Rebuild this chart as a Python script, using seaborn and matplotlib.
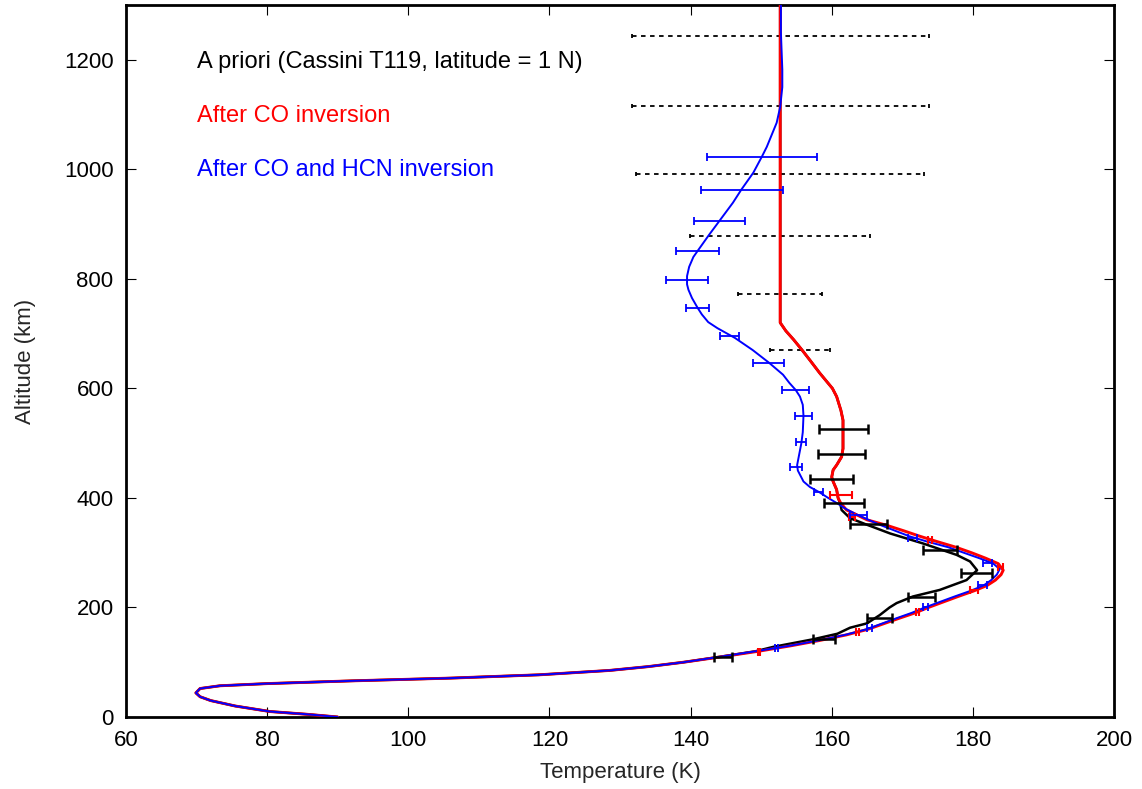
import matplotlib
matplotlib.use("Agg")
import matplotlib.pyplot as plt
import seaborn as sns
import pandas as pd

# profiles: altitude (km) -> temperature (K)
alt_blue = [0, 5, 10, 20, 30, 37, 44, 52, 57, 61, 66, 71, 77, 85, 92, 100, 110, 120,
            130, 140, 150, 160, 170, 180, 190, 200, 210, 220, 230, 240, 250, 260, 270,
            280, 290, 300, 310, 320, 330, 340, 350, 360, 370, 380, 390, 400, 410, 420,
            430, 440, 450, 460, 480, 500, 520, 550, 570, 585, 597, 610, 625, 647, 670,
            692, 710, 721, 735, 747, 765, 780, 790, 805, 822, 840, 851, 880, 906, 939, 963,
            994, 1023, 1041, 1085, 1114, 1150, 1182, 1250, 1300]
temp_blue = [90.0, 85.6, 80.4, 75.5, 72.0, 70.5, 69.9, 70.5, 73.3, 80.0, 92.0, 106.0, 118.5,
             128.5, 134.0, 139.0, 144.2, 149.2, 154.0, 158.2, 161.9, 164.9, 167.0, 169.1,
             171.3, 173.2, 175.3, 177.4, 179.6, 181.5, 182.6, 183.4, 183.8, 182.9, 180.9,
             178.7, 176.5, 173.6, 171.0, 169.0, 167.0, 165.2, 163.5, 162.0, 160.8, 159.5,
             158.3, 156.9, 156.0, 155.6, 155.2, 155.1, 155.4, 155.7, 155.9, 156.0, 155.9,
             155.5, 154.9, 154.0, 153.1, 151.1, 148.8, 146.3, 143.8, 142.5, 141.6, 141.0,
             140.2, 139.7, 139.5, 139.5, 139.8, 140.4, 141.0, 142.6, 144.1, 146.0, 147.2,
             148.9, 150.1, 150.8, 152.2, 152.7, 153.0, 153.0, 152.8, 152.8]

alt_red = [0, 5, 10, 20, 30, 37, 44, 52, 57, 61, 66, 71, 77, 85, 92, 100, 110, 120, 130,
           140, 150, 160, 170, 180, 190, 200, 210, 220, 230, 240, 250, 260, 268, 280, 290,
           300, 310, 320, 330, 340, 350, 360, 370, 378, 390, 400, 415, 430, 438, 451, 460,
           475, 490, 511, 524, 542, 560, 585, 600, 628, 650, 670, 689, 705, 720, 800, 1000,
           1200, 1300]
temp_red = [90.0, 85.6, 80.4, 75.5, 72.0, 70.5, 69.9, 70.5, 73.3, 80.0, 92.0, 106.0, 118.5,
            128.5, 134.0, 139.0, 144.4, 149.6, 154.2, 158.4, 162.1, 165.1, 167.3, 169.5,
            171.8, 173.7, 175.8, 177.9, 180.1, 182.0, 183.2, 184.0, 184.3, 183.6, 181.8,
            179.8, 177.6, 175.0, 172.5, 170.2, 167.8, 165.0, 163.4, 162.1, 161.3, 160.9,
            160.7, 160.2, 160.0, 160.2, 160.7, 161.4, 161.6, 161.6, 161.6, 161.6, 161.3,
            160.7, 160.1, 158.3, 157.0, 155.8, 154.6, 153.5, 152.7, 152.7, 152.7, 152.7,
            152.7]

alt_prior = [0, 5, 10, 20, 30, 37, 44, 52, 57, 61, 66, 71, 77, 85, 92, 100, 110, 120, 128,
             142, 152, 163, 171, 186, 200, 208, 220, 232, 250, 268, 284, 296, 317, 335, 351,
             363, 378, 390, 400, 415, 430, 438, 451, 460, 475, 490, 511, 524, 542, 560, 585,
             600, 628, 650, 670, 689, 705, 720, 800, 1000, 1200, 1300]
temp_prior = [90.0, 85.6, 80.4, 75.5, 72.0, 70.5, 69.9, 70.5, 73.3, 80.0, 92.0, 106.0, 118.5,
              128.5, 134.0, 139.0, 144.2, 149.2, 151.7, 157.4, 160.8, 162.6, 165.0, 166.8,
              168.2, 169.2, 171.5, 175.3, 179.1, 180.6, 179.6, 177.7, 172.9, 168.3, 165.0,
              162.6, 161.4, 161.2, 160.9, 160.7, 160.2, 160.0, 160.2, 160.7, 161.4, 161.6,
              161.6, 161.6, 161.6, 161.3, 160.7, 160.1, 158.3, 157.0, 155.8, 154.6, 153.5,
              152.7, 152.7, 152.7, 152.7, 152.7]

# error bars: altitude, low, high
bar_prior_dot_alt = [1244, 1116, 992, 879, 773, 670]
bar_prior_dot_lo = [131.7, 131.7, 132.3, 139.9, 146.7, 151.3]
bar_prior_dot_hi = [173.8, 173.8, 173.1, 165.4, 158.6, 159.8]

bar_prior_alt = [526, 480, 435, 391, 353, 305, 263, 219, 181, 143, 110]
bar_prior_lo = [158.2, 158.1, 156.9, 158.9, 162.6, 172.9, 178.3, 170.8, 165.0, 157.4, 143.3]
bar_prior_hi = [165.1, 164.7, 163.0, 164.6, 167.8, 177.8, 182.7, 174.6, 168.5, 160.5, 145.9]

bar_red_alt = [405, 365, 323, 274, 232, 192, 155, 119]
bar_red_lo = [159.8, 162.4, 173.6, 183.6, 179.6, 172.0, 163.4, 149.5]
bar_red_hi = [162.9, 163.3, 174.2, 184.3, 180.7, 172.4, 163.8, 149.9]

bar_blue_alt = [1023, 963, 906, 851, 798, 747, 696, 647, 597, 550, 502, 457, 411, 369,
                327, 281, 241, 201, 163, 126]
bar_blue_lo = [142.3, 141.5, 140.5, 137.9, 136.5, 139.4, 144.2, 148.9, 153.0, 154.8, 154.9,
               154.1, 157.5, 162.6, 170.8, 181.4, 180.7, 172.9, 165.0, 152.0]
bar_blue_hi = [157.9, 153.1, 147.7, 144.0, 142.5, 142.6, 146.9, 153.3, 156.8, 157.2, 156.4,
               155.8, 158.8, 165.0, 172.1, 182.7, 182.0, 173.6, 165.7, 152.4]

labels = ["A priori (Cassini T119, latitude = 1 N)", "After CO inversion",
          "After CO and HCN inversion"]
colors = ["#000000", "#ff0000", "#0000ff"]

sns.set_style("ticks")
plt.rcParams['font.family'] = ['Liberation Sans', 'DejaVu Sans']

fig = plt.figure(figsize=(11.42, 7.89), dpi=100)
ax = fig.add_axes([126 / 1142, 1 - 717 / 789, 988 / 1142, 712 / 789])


def errbars(alt, lo, hi, color, lw, cap, ls='-', z=3):
    d = pd.DataFrame({'alt': alt, 'lo': lo, 'hi': hi})
    d['c'] = (d.lo + d.hi) / 2
    d['e'] = (d.hi - d.lo) / 2
    eb = ax.errorbar(d.c, d.alt, xerr=d.e, fmt='none', ecolor=color, elinewidth=lw,
                     capsize=cap, capthick=lw, zorder=z)
    if ls != '-':
        for lc in eb[2]:
            lc.set_linestyle(ls)


# a priori dotted bars
errbars(bar_prior_dot_alt, bar_prior_dot_lo, bar_prior_dot_hi, 'black', 1.3, 1.6,
        ls=(0, (2.5, 2.5)), z=2)

prof = [(alt_prior, temp_prior, 1.8), (alt_red, temp_red, 2.1), (alt_blue, temp_blue, 1.4)]
for (a, t, lw), col in zip(prof, colors):
    df = pd.DataFrame({'alt': a, 'T': t})
    sns.lineplot(data=df, x='T', y='alt', sort=False, estimator=None, color=col,
                 linewidth=lw, ax=ax, zorder=3)

errbars(bar_prior_alt, bar_prior_lo, bar_prior_hi, 'black', 1.8, 3.6, z=4)
errbars(bar_red_alt, bar_red_lo, bar_red_hi, 'red', 1.5, 3.0, z=5)
errbars(bar_blue_alt, bar_blue_lo, bar_blue_hi, 'blue', 1.3, 3.2, z=6)

for lab, col, zt in zip(labels, colors, [1196, 1098, 999]):
    ax.text(70.0, zt, lab, color=col, fontsize=17, va='center', ha='left')

ax.set_xlim(60, 200)
ax.set_ylim(0, 1300)
ax.set_xticks(range(60, 201, 20))
ax.set_yticks(range(0, 1201, 200))
ax.tick_params(direction='in', length=7.5, width=0.8, top=True, right=True,
               labelsize=16, pad=9, colors='black')
for s in ax.spines.values():
    s.set_linewidth(2.0)
    s.set_color('black')
ax.set_xlabel('Temperature (K)', fontsize=16, labelpad=8)
ax.set_ylabel('Altitude (km)', fontsize=16, labelpad=20)

fig.savefig('out.png', dpi=100)
